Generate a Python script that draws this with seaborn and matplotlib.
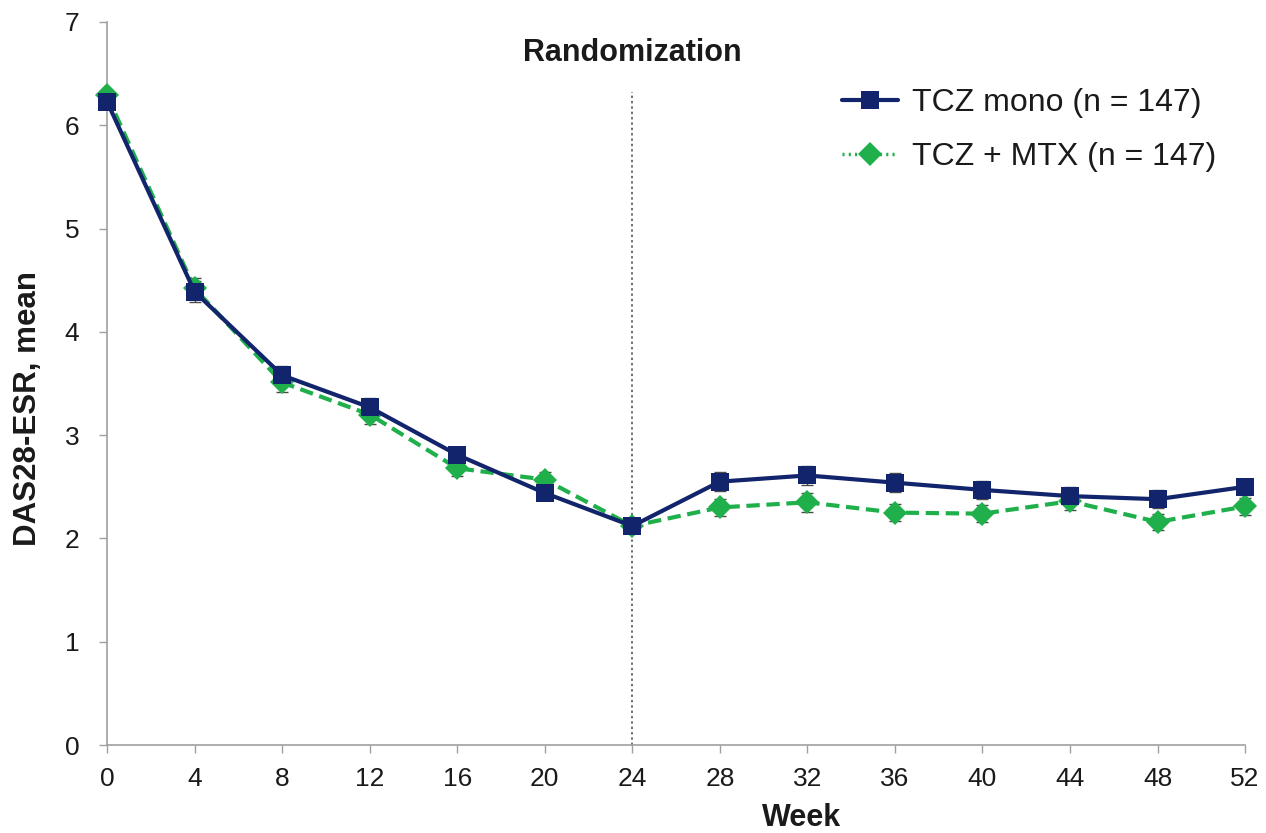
import matplotlib
matplotlib.use("Agg")
import matplotlib.pyplot as plt
from matplotlib.lines import Line2D
import seaborn as sns
import pandas as pd

weeks = [0, 4, 8, 12, 16, 20, 24, 28, 32, 36, 40, 44, 48, 52]
mono_mean = [6.23, 4.39, 3.58, 3.27, 2.81, 2.44, 2.12, 2.55, 2.61, 2.54, 2.47, 2.41, 2.38, 2.50]
mono_se = [0.05, 0.10, 0.09, 0.09, 0.07, 0.07, 0.05, 0.09, 0.09, 0.09, 0.09, 0.09, 0.09, 0.08]
combo_mean = [6.29, 4.42, 3.51, 3.20, 2.68, 2.57, 2.12, 2.30, 2.35, 2.25, 2.24, 2.36, 2.16, 2.31]
combo_se = [0.05, 0.10, 0.09, 0.09, 0.08, 0.07, 0.05, 0.08, 0.09, 0.08, 0.08, 0.08, 0.08, 0.08]
series_labels = ["TCZ mono (n = 147)", "TCZ + MTX (n = 147)"]
y_ticks = [0, 1, 2, 3, 4, 5, 6, 7]

navy = "#12246b"
green = "#1fb04b"
text_color = "#1a1a1a"

sns.set_theme(style="white")
plt.rcParams["font.family"] = ["Liberation Sans", "DejaVu Sans"]

df = pd.DataFrame({
    "week": weeks * 2,
    "mean": mono_mean + combo_mean,
    "group": [series_labels[0]] * len(weeks) + [series_labels[1]] * len(weeks),
})

fig = plt.figure(figsize=(12.66, 8.33), dpi=100)
ax = fig.add_axes([0.0845, 0.1056, 0.899, 0.868])

# error bars (SE) drawn under the lines
for m, se in [(combo_mean, combo_se), (mono_mean, mono_se)]:
    ax.errorbar(weeks, m, yerr=se, fmt="none", ecolor="#4a4a4a",
                elinewidth=1.0, capsize=4.5, capthick=1.0, zorder=2)

sns.lineplot(data=df, x="week", y="mean", hue="group", style="group",
             palette={series_labels[0]: navy, series_labels[1]: green},
             dashes={series_labels[0]: "", series_labels[1]: (3.2, 1.6)},
             markers={series_labels[0]: "s", series_labels[1]: "D"},
             markersize=13, markeredgewidth=0, linewidth=3.0, ax=ax,
             legend=False)

for line in ax.lines:
    line.set_clip_on(False)
    if line.get_color() == navy:
        line.set_zorder(4)
    elif line.get_color() == green:
        line.set_zorder(3)
        line.set_markersize(12)

ax.axvline(24, ymin=0, ymax=6.32 / 7, color="#444444", linestyle=(0, (1.5, 2)),
           linewidth=1.1, zorder=1)
ax.text(24, 6.7, "Randomization", ha="center", va="center", fontsize=22,
        fontweight="bold", color=text_color)

ax.set_xlim(0, 52)
ax.set_ylim(0, 7)
ax.set_xticks(weeks)
ax.set_yticks(y_ticks)
ax.tick_params(axis="both", labelsize=19, length=6, width=1, color="#a0a0a0",
               direction="out", bottom=True, left=True, labelcolor=text_color)
ax.tick_params(axis="x", pad=10)
ax.tick_params(axis="y", pad=14)
for side in ["top", "right"]:
    ax.spines[side].set_visible(False)
for side in ["left", "bottom"]:
    ax.spines[side].set_color("#a0a0a0")
    ax.spines[side].set_linewidth(1.2)

ax.set_xlabel("Week", fontsize=22, fontweight="bold", color=text_color)
ax.set_ylabel("DAS28-ESR, mean", fontsize=22.5, fontweight="bold", color=text_color)
ax.xaxis.set_label_coords(0.61, -0.08)
ax.yaxis.set_label_coords(-0.056, 0.466)

handles = [
    Line2D([], [], color=navy, linewidth=3.0, marker="s", markersize=13, markeredgewidth=0),
    Line2D([], [], color=green, linewidth=2.5, linestyle=(0, (0.6, 1.2)), marker="D",
           markersize=12, markeredgewidth=0),
]
ax.legend(handles=handles, labels=series_labels, loc="upper right",
          bbox_to_anchor=(1.0, 0.948), frameon=False, fontsize=23,
          handlelength=1.75, handletextpad=0.45, labelspacing=0.75, labelcolor=text_color)

fig.savefig("out.png", dpi=100, facecolor="white")
